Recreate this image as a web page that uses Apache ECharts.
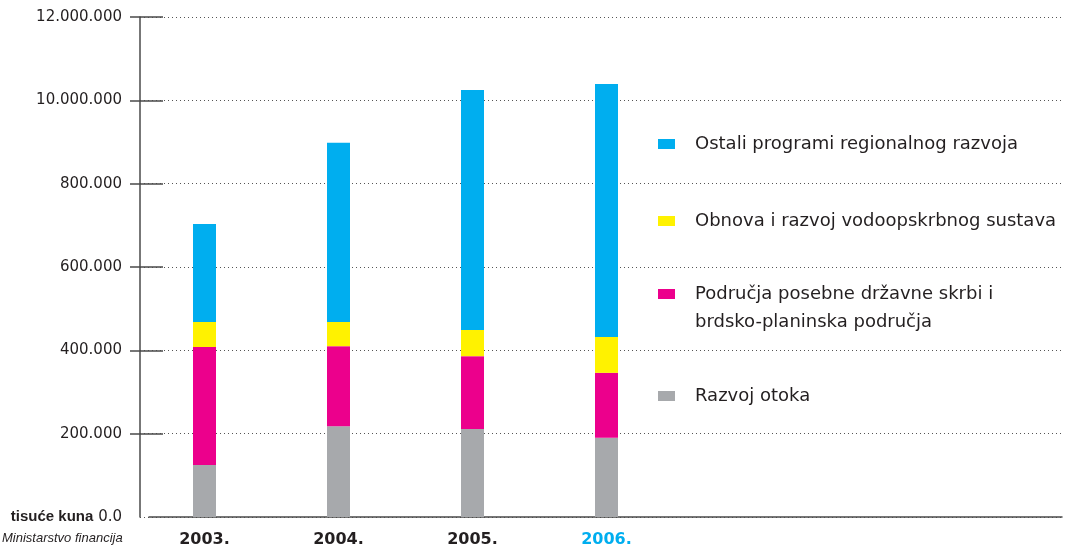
<!DOCTYPE html>
<html>
<head>
<meta charset="utf-8">
<script src="https://cdn.jsdelivr.net/npm/echarts@6/dist/echarts.min.js"></script>
<style>
  html, body { margin: 0; padding: 0; background: #fff; }
  #chart { width: 1066px; height: 550px; }
</style>
</head>
<body>
<div id="chart"></div>
<script>
// godine i iznosi (tisuće kuna), redom odozdo prema gore u stupcu
var years = ['2003.', '2004.', '2005.', '2006.'];
var razvojOtoka = [125000, 218000, 211000, 190000];
var podrucjaSkrbi = [283000, 192000, 175000, 156000];
var vodoopskrba = [60000, 58000, 63000, 86000];
var ostaliProgrami = [235000, 430000, 576000, 607000];
var yTickLabels = ['0.0', '200.000', '400.000', '600.000', '800.000', '10.000.000', '12.000.000'];

var names = [
  'Razvoj otoka',
  'Područja posebne državne skrbi i brdsko-planinska područja',
  'Obnova i razvoj vodoopskrbnog sustava',
  'Ostali programi regionalnog razvoja'
];
var colors = ['#A7A9AC', '#EC008C', '#FFF200', '#00AEEF'];
var txt = '#231F20';
var axisCol = '#4a4a4a';

var myChart = echarts.init(document.getElementById('chart'));

function legendAt(name, top, fmt) {
  return {
    data: [name],
    left: 658,
    top: top,
    padding: 0,
    orient: 'vertical',
    selectedMode: false,
    icon: 'rect',
    itemWidth: 17,
    itemHeight: 10,
    formatter: fmt || '{name}',
    textStyle: {
      fontFamily: 'DejaVu Sans',
      fontSize: 18,
      lineHeight: 20,
      color: txt,
      padding: [0, 0, 0, 15]
    }
  };
}

var option = {
  animation: false,
  backgroundColor: '#fff',
  title: [
    {
      text: 'brdsko-planinska područja',
      left: 695,
      top: 312,
      padding: 0,
      textStyle: { fontFamily: 'DejaVu Sans', fontSize: 18, lineHeight: 20, fontWeight: 'normal', color: txt }
    },
    {
      text: 'Ministarstvo financija',
      left: 2,
      top: 532,
      padding: 0,
      textStyle: { fontFamily: 'Liberation Sans', fontSize: 13, fontStyle: 'italic', fontWeight: 'normal', color: txt }
    }
  ],
  legend: [
    legendAt(names[3], 134),
    legendAt(names[2], 211),
    legendAt(names[1], 284, function () { return 'Područja posebne državne skrbi i'; }),
    legendAt(names[0], 386)
  ],
  grid: [
    { left: 140, right: 4, top: 17, bottom: 33 },   // oznake i mreža
    { left: 149, right: 4, top: 17, bottom: 33 },   // osnovna linija
    { left: 137.5, width: 536, top: 17, bottom: 33 }, // stupci
    { left: 140, width: 30, top: 17, bottom: 116.333 } // crtice
  ],
  xAxis: [
    { gridIndex: 0, type: 'value', show: false },
    {
      gridIndex: 1, type: 'value',
      axisLine: { show: true, lineStyle: { color: axisCol, width: 1.5 } },
      axisTick: { show: false }, axisLabel: { show: false }, splitLine: { show: false }
    },
    {
      gridIndex: 2, type: 'category',
      data: years.map(function (y, i) {
        return i === years.length - 1 ? { value: y, textStyle: { color: '#00AEEF' } } : y;
      }),
      axisLine: { show: false },
      axisTick: { show: false },
      axisLabel: {
        margin: 15,
        fontFamily: 'DejaVu Sans',
        fontWeight: 'bold',
        fontSize: 16,
        color: txt
      }
    },
    { gridIndex: 3, type: 'value', show: false }
  ],
  yAxis: [
    {
      gridIndex: 0, type: 'value', min: 0, max: 1200000, interval: 200000, position: 'left',
      axisLine: { show: true, lineStyle: { color: axisCol, width: 1.5 } },
      axisTick: { show: false },
      splitLine: { show: true, lineStyle: { color: '#555', type: [1, 3], width: 1 } },
      axisLabel: {
        margin: 18,
        fontFamily: 'DejaVu Sans',
        fontSize: 15,
        color: txt,
        formatter: function (v) {
          var s = yTickLabels[Math.round(v / 200000)];
          return v === 0 ? '{b|tisuće kuna} ' + s : s;
        },
        rich: {
          b: { fontFamily: 'Liberation Sans', fontWeight: 'bold', fontSize: 15, color: txt }
        }
      }
    },
    { gridIndex: 1, type: 'value', min: 0, max: 1200000, show: false },
    { gridIndex: 2, type: 'value', min: 0, max: 1200000, show: false },
    {
      gridIndex: 3, type: 'value', min: 200000, max: 1200000, interval: 200000, position: 'left',
      axisLine: { show: false },
      axisLabel: { show: false },
      splitLine: { show: false },
      axisTick: { show: true, length: 10, lineStyle: { color: axisCol, width: 1.5 } }
    },
    {
      gridIndex: 3, type: 'value', min: 200000, max: 1200000, interval: 200000, position: 'left', offset: 0,
      axisLine: { show: false },
      axisLabel: { show: false },
      splitLine: { show: false },
      axisTick: { show: true, inside: true, length: 23, lineStyle: { color: axisCol, width: 1.5 } }
    }
  ],
  series: [razvojOtoka, podrucjaSkrbi, vodoopskrba, ostaliProgrami].map(function (d, i) {
    return {
      name: names[i],
      type: 'bar',
      stack: 'ukupno',
      xAxisIndex: 2,
      yAxisIndex: 2,
      barWidth: 23,
      itemStyle: { color: colors[i] },
      data: d
    };
  })
};

myChart.setOption(option);
</script>
</body>
</html>
